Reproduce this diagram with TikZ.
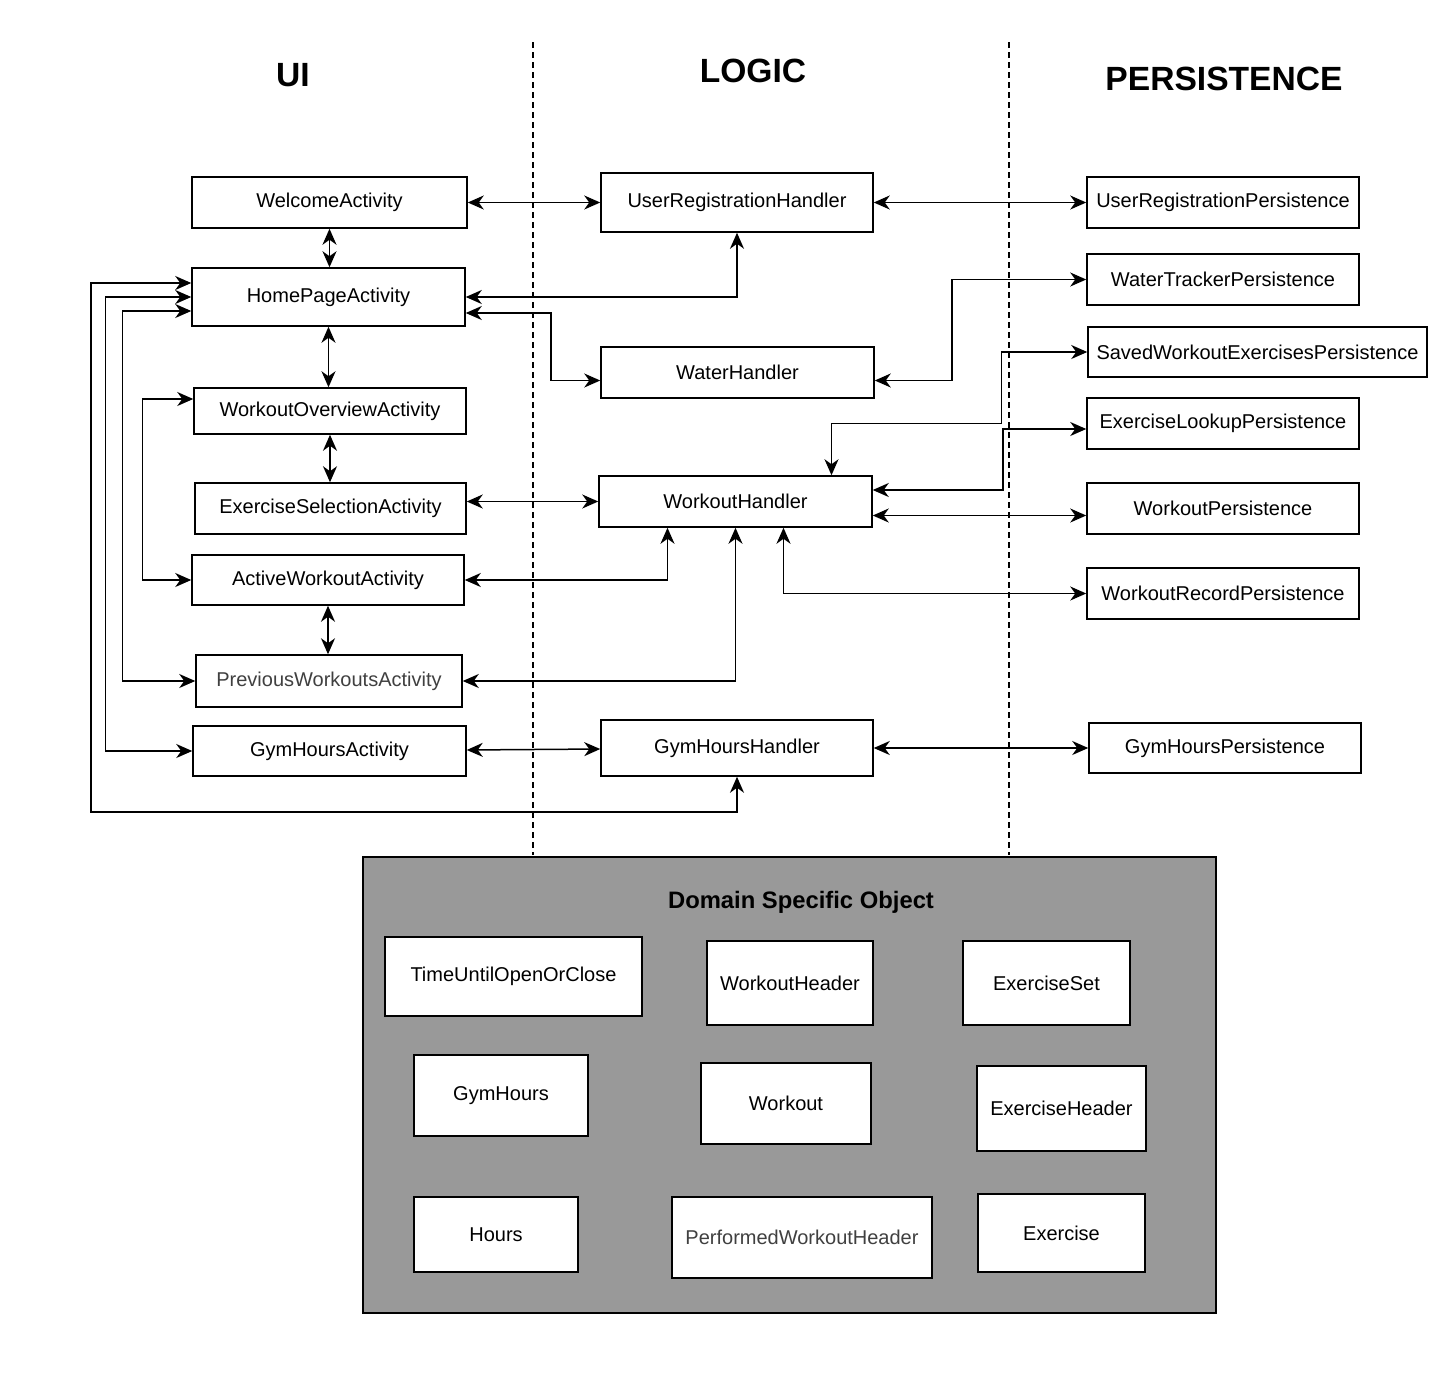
\documentclass[tikz,border=0pt]{standalone}
\usepackage{fontspec}
\setmainfont{Liberation Sans}
\usetikzlibrary{arrows.meta}
\definecolor{domaingray}{HTML}{999999}
\tikzset{
  box/.style={draw, fill=white, line width=0.75pt, inner sep=0pt, font=\fontsize{10}{12}\selectfont},
  twoway/.style={{Stealth[length=8pt,width=7pt,inset=2.5pt]}-{Stealth[length=8pt,width=7pt,inset=2.5pt]}, line width=0.75pt},
  layer/.style={font=\bfseries\fontsize{16.8}{20}\selectfont},
}
\begin{document}
\begin{tikzpicture}[x=0.5pt,y=-0.5pt]
\useasboundingbox (0,0) rectangle (1442,1377);
% layer titles
\node[layer] (ui) at (293,75) {UI};
\node[layer] (logic) at (753,71) {LOGIC};
\node[layer] (persist) at (1224,79) {PERSISTENCE};
\draw[line width=0.75pt, dash pattern=on 3pt off 2pt] (533,42) -- (533,855);
\draw[line width=0.75pt, dash pattern=on 3pt off 2pt] (1009,42) -- (1009,855);
% UI
\foreach \name/\x/\y/\w/\h/\txt in {
welcome/329.5/202.5/275/51/WelcomeActivity,
homepage/328.5/297/273/58/HomePageActivity,
overview/330/411/272/46/WorkoutOverviewActivity,
selection/330.5/508.5/271/51/ExerciseSelectionActivity,
active/328/580/272/50/ActiveWorkoutActivity,
gymact/329.5/751/273/50/GymHoursActivity}
 \node[box, minimum width=0.5pt*\w, minimum height=0.5pt*\h] (\name) at (\x,\y) {\txt};
\node[box, text=black!75, minimum width=133pt, minimum height=26pt] (previous) at (329,681) {PreviousWorkoutsActivity};
% logic
\foreach \name/\x/\y/\w/\h/\txt in {
userreg/737/202.5/272/59/UserRegistrationHandler,
water/737.5/372.5/273/51/WaterHandler,
workout/735.5/501.5/273/51/WorkoutHandler,
gymhand/737/748/272/56/GymHoursHandler}
 \node[box, minimum width=0.5pt*\w, minimum height=0.5pt*\h] (\name) at (\x,\y) {\txt};
% persistence
\foreach \name/\x/\y/\w/\h/\txt in {
userregpers/1223/202.5/272/51/UserRegistrationPersistence,
watertracker/1223/279.5/272/51/WaterTrackerPersistence,
saved/1257.5/352/339/50/SavedWorkoutExercisesPersistence,
lookup/1223/423.5/272/51/ExerciseLookupPersistence,
workoutpers/1223/508.5/272/51/WorkoutPersistence,
record/1223/593.5/272/51/WorkoutRecordPersistence,
gympers/1225/748/272/50/GymHoursPersistence}
 \node[box, minimum width=0.5pt*\w, minimum height=0.5pt*\h] (\name) at (\x,\y) {\txt};
% domain objects
\node[draw, fill=domaingray, line width=1pt, minimum width=426.5pt, minimum height=228pt] (domain) at (789.5,1085) {};
\node[font=\bfseries\fontsize{11.9}{14}\selectfont] (domaintitle) at (801,902) {Domain Specific Object};
\foreach \name/\x/\y/\w/\h/\txt in {
timeuntil/513.5/976.5/257/79/TimeUntilOpenOrClose,
wheader/790/983/166/84/WorkoutHeader,
exset/1046.5/983/167/84/ExerciseSet,
gymhours/501/1095.5/174/81/GymHours,
wobj/786/1103.5/170/81/Workout,
exheader/1061.5/1108.5/169/85/ExerciseHeader,
hours/496/1234.5/164/75/Hours,
exercise/1061.5/1233/167/78/Exercise}
 \node[box, minimum width=0.5pt*\w, minimum height=0.5pt*\h] (\name) at (\x,\y) {\txt};
\node[box, text=black!75, minimum width=130pt, minimum height=40.5pt] (performed) at (802,1237.5) {PerformedWorkoutHeader};
% UI links
\draw[twoway] (welcome.south) -- (welcome.south |- homepage.north);
\draw[twoway] (homepage.south) -- (homepage.south |- overview.north);
\draw[twoway] (overview.south) -- (overview.south |- selection.north);
\draw[twoway] (active.south) -- (active.south |- previous.north);
\draw[twoway] (gymhand.south) |- ++(-646,35) |- ([yshift=7pt]homepage.west);
\draw[twoway] (homepage.west) -- ++(-86,0) |- (gymact.west);
\draw[twoway] ([yshift=-7pt]homepage.west) -- ++(-69,0) |- (previous.west);
\draw[twoway] ([yshift=6pt]overview.west) -- ++(-51,0) |- (active.west);
% UI to logic
\draw[twoway] (welcome) -- (userreg);
\draw[twoway] (homepage.east) -| (userreg.south);
\draw[twoway] ([yshift=-8pt]homepage.east) -- ++(85,0) |- ([yshift=-4pt]water.west);
\draw[twoway] (selection.east |- workout.west) -- (workout.west);
\draw[twoway] (active.east) -| ([xshift=-34pt]workout.south);
\draw[twoway] (previous.east) -| (workout.south);
\draw[twoway] (gymact) -- (gymhand);
% logic to persistence
\draw[twoway] (userreg) -- (userregpers);
\draw[twoway] ([yshift=-4pt]water.east) -- ++(77,0) |- (watertracker.west);
\draw[twoway] ([xshift=48pt]workout.north) -- ++(0,-52) -- ++(170,0) |- (saved.west);
\draw[twoway] ([yshift=5.75pt]workout.east) -- ++(130,0) |- ([yshift=-2.75pt]lookup.west);
\draw[twoway] ([yshift=-7pt]workout.east) -- ([yshift=-3.5pt]workoutpers.west);
\draw[twoway] ([xshift=24pt]workout.south) |- (record.west);
\draw[twoway] (gymhand) -- (gympers);
\end{tikzpicture}
\end{document}
